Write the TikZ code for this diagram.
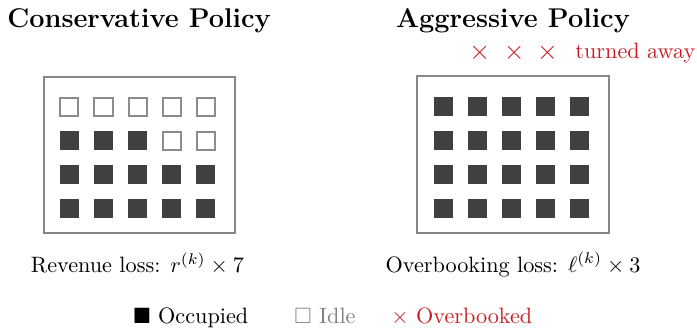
\documentclass[tikz,border=0pt]{standalone}
\usepackage{amssymb}
\definecolor{occ}{gray}{0.25}
\definecolor{framec}{gray}{0.53}
\definecolor{idlec}{gray}{0.55}
\definecolor{obred}{RGB}{200,30,35}
\begin{document}
\begin{tikzpicture}[x=0.45pt,y=-0.45pt,
  occupied/.style={fill=occ},
  idle/.style={draw=idlec,line width=0.9pt},
  frame/.style={draw=framec,line width=0.9pt},
  titletext/.style={font=\fontsize{12.2}{15}\selectfont\bfseries,anchor=base,inner sep=0pt},
  lbl/.style={anchor=base,inner sep=0pt},
  cross/.style={text=obred,font=\large,inner sep=0pt},
  legend/.style={anchor=base west,inner sep=0pt}]
\useasboundingbox (0,0) rectangle (697,333);
% titles
\node[titletext] (t1) at (139,27) {Conservative Policy};
\node[titletext] (t2) at (513,27) {Aggressive Policy};
% turned away
\node[cross] (x1) at (479.7,52.5) {$\times$};
\node[cross] (x2) at (514.2,52.5) {$\times$};
\node[cross] (x3) at (547.5,52.5) {$\times$};
\node[legend,text=obred] (ta) at (575,58.3) {turned away};
% frames
\draw[frame] (44,77) rectangle (235,233);
\draw[frame] (417,76) rectangle (609,233);
% left grid
\foreach \c in {0,...,4}{
  \draw[idle] ({69.5+34*\c-9},{106.5-9}) rectangle ++(18,18);
  \fill[occupied] ({69.5+34*\c-9.5},{174.5-9.5}) rectangle ++(19,19);
  \fill[occupied] ({69.5+34*\c-9.5},{208.5-9.5}) rectangle ++(19,19);
}
\foreach \c in {0,1,2}{
  \fill[occupied] ({69.5+34*\c-9.5},{140.5-9.5}) rectangle ++(19,19);
}
\foreach \c in {3,4}{
  \draw[idle] ({69.5+34*\c-9},{140.5-9}) rectangle ++(18,18);
}
% right grid
\foreach \c in {0,...,4}{
  \foreach \r in {0,...,3}{
    \fill[occupied] ({443.5+34*\c-9.5},{106-9.5+34*\r}) rectangle ++(19,19);
  }
}
% labels
\node[lbl] (rl) at (137.5,272.5) {Revenue loss: $r^{(k)}\times 7$};
\node[lbl] (ol) at (513,272) {Overbooking loss: $\ell^{(k)}\times 3$};
% legend
\node[legend] (l1) at (133,323) {$\blacksquare$ Occupied};
\node[legend,text=gray] (l2) at (294,323) {$\square$ Idle};
\node[legend,text=obred] (l3) at (391,323) {$\times$ Overbooked};
\end{tikzpicture}
\end{document}
